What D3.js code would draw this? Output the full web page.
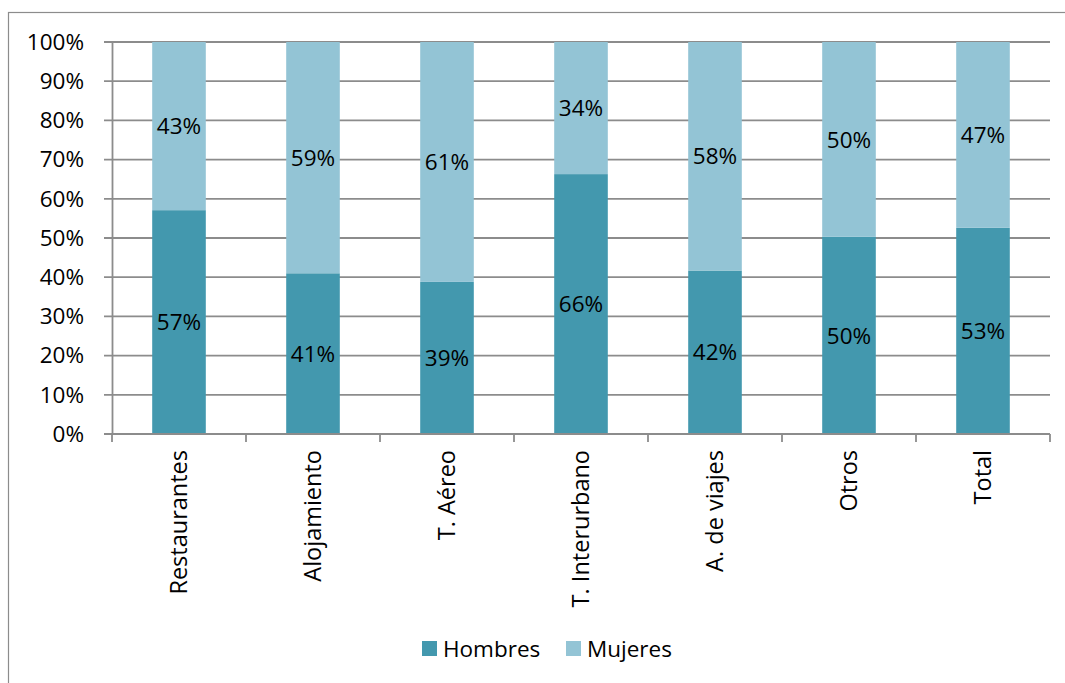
<!DOCTYPE html>
<html><head><meta charset="utf-8">
<script src="https://cdn.jsdelivr.net/npm/d3@7"></script>
<style>body{margin:0;background:#fff;}svg{display:block;}</style>
</head><body>
<svg id="c" width="1065" height="683"></svg>
<script>
const categories = ["Restaurantes","Alojamiento","T. Aéreo","T. Interurbano","A. de viajes","Otros","Total"];
const hombres = [57.1, 41.0, 38.8, 66.3, 41.7, 50.3, 52.6];
const mujeres = [42.9, 59.0, 61.2, 33.7, 58.3, 49.7, 47.4];
const seriesNames = ["Hombres","Mujeres"];
const yTicks = [0,10,20,30,40,50,60,70,80,90,100];

const colors = {Hombres:"#4398AE", Mujeres:"#93C4D5"};
const font = "'Open Sans', sans-serif";
const fs = 22.5;
const svg = d3.select("#c");

svg.append("rect").attr("x",8.5).attr("y",12.5).attr("width",1070).attr("height",690)
  .attr("fill","none").attr("stroke","#8c8c8c").attr("stroke-width",1.2);

const L=112, R=1050, T=42, B=434;
const x = d3.scaleBand().domain(categories).range([L,R]).padding(0);
const y = d3.scaleLinear().domain([0,100]).range([B,T]);

// gridlines
svg.append("g").selectAll("line").data(yTicks).join("line")
  .attr("x1",L-8).attr("x2",R).attr("y1",d=>y(d)).attr("y2",d=>y(d))
  .attr("stroke","#8c8c8c").attr("stroke-width",1.8);

// bars
const rows = categories.map((c,i)=>({c, h:hombres[i], m:mujeres[i]}));
const bw = x.bandwidth()*0.4;
const g = svg.append("g");
rows.forEach(r=>{
  const cx = x(r.c)+x.bandwidth()/2;
  g.append("rect").attr("x",cx-bw/2).attr("width",bw)
    .attr("y",y(r.h)).attr("height",y(0)-y(r.h)).attr("fill",colors.Hombres);
  g.append("rect").attr("x",cx-bw/2).attr("width",bw)
    .attr("y",y(r.h+r.m)).attr("height",y(r.h)-y(r.h+r.m)).attr("fill",colors.Mujeres);
  g.append("text").attr("x",cx).attr("y",(y(0)+y(r.h))/2).attr("dy","0.36em")
    .attr("text-anchor","middle").attr("font-family",font).attr("font-size",fs).attr("fill","#000")
    .text(Math.round(r.h)+"%");
  g.append("text").attr("x",cx).attr("y",(y(r.h)+y(r.h+r.m))/2).attr("dy","0.36em")
    .attr("text-anchor","middle").attr("font-family",font).attr("font-size",fs).attr("fill","#000")
    .text(Math.round(r.m)+"%");
});

// y axis
const ya = svg.append("g").attr("transform",`translate(${L},0)`)
  .call(d3.axisLeft(y).tickValues(yTicks).tickFormat(d=>d+"%").tickSize(0).tickPadding(28));
ya.select(".domain").attr("stroke","#8c8c8c").attr("stroke-width",1.8);
ya.selectAll("text").attr("font-family",font).attr("font-size",fs).attr("fill","#000");

// x axis
const bounds = d3.range(categories.length+1).map(i=>L+i*x.step());
svg.append("line").attr("x1",L).attr("x2",R).attr("y1",B).attr("y2",B).attr("stroke","#8c8c8c").attr("stroke-width",1.8);
svg.append("g").selectAll("line").data(bounds).join("line")
  .attr("x1",d=>d).attr("x2",d=>d).attr("y1",B).attr("y2",B+8)
  .attr("stroke","#8c8c8c").attr("stroke-width",1.8);
svg.append("g").selectAll("text").data(categories).join("text")
  .attr("transform",d=>`translate(${x(d)+x.bandwidth()/2+8},${B+16}) rotate(-90)`)
  .attr("text-anchor","end").attr("font-family",font).attr("font-size",fs+1).attr("fill","#000")
  .text(d=>d);

// legend
const legX = [422, 566];
seriesNames.forEach((s,i)=>{
  svg.append("rect").attr("x",legX[i]).attr("y",641).attr("width",15).attr("height",15).attr("fill",colors[s]);
  svg.append("text").attr("x",legX[i]+21).attr("y",657).attr("font-family",font).attr("font-size",fs).attr("fill","#000").text(s);
});
</script>
</body></html>
